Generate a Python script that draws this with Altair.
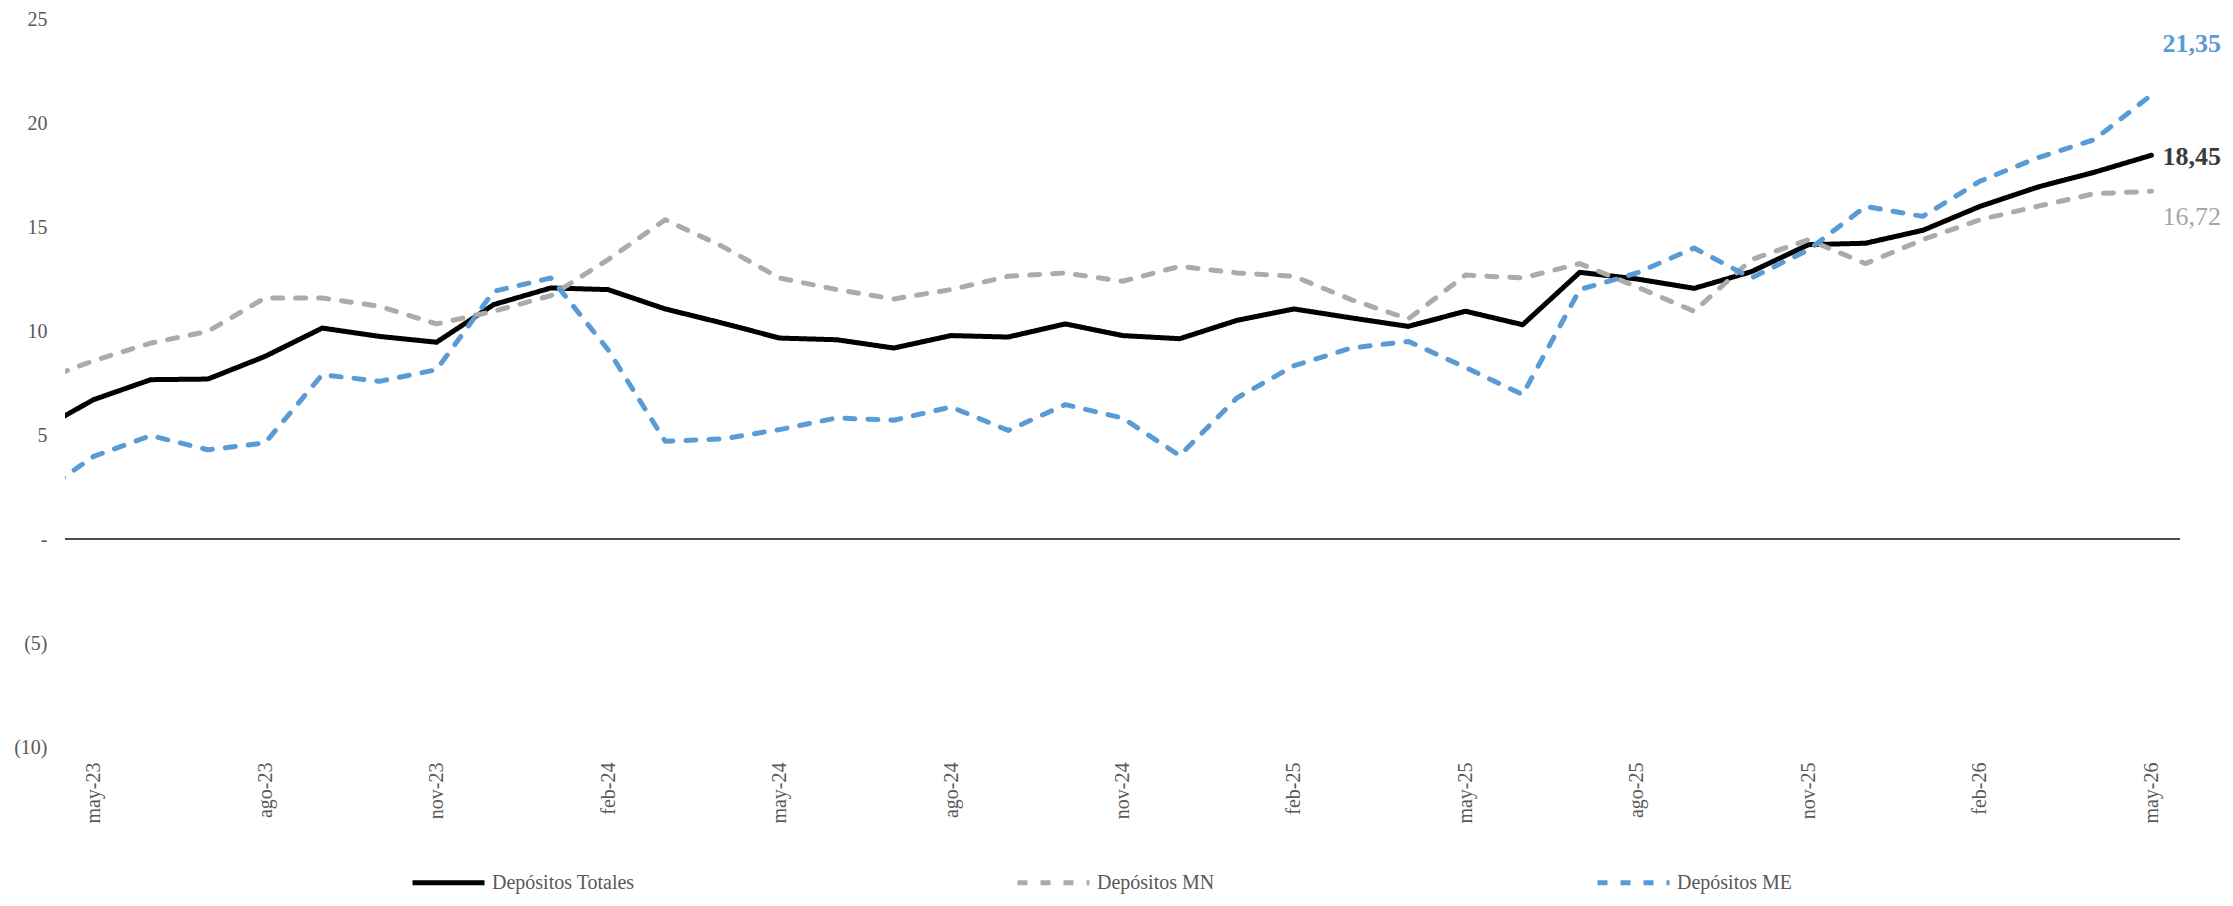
import json
import altair as alt
import pandas as pd

# Months (first one is only partially visible at the left edge)
MONTHS = ["abr-23", "may-23", "jun-23", "jul-23", "ago-23", "sep-23", "oct-23", "nov-23", "dic-23",
          "ene-24", "feb-24", "mar-24", "abr-24", "may-24", "jun-24", "jul-24", "ago-24", "sep-24",
          "oct-24", "nov-24", "dic-24", "ene-25", "feb-25", "mar-25", "abr-25", "may-25", "jun-25",
          "jul-25", "ago-25", "sep-25", "oct-25", "nov-25", "dic-25", "ene-26", "feb-26", "mar-26",
          "abr-26", "may-26"]

TOTALES = [5.16, 6.70, 7.66, 7.69, 8.78, 10.14, 9.74, 9.46, 11.27,
           12.07, 11.99, 11.06, 10.38, 9.66, 9.58, 9.18, 9.78, 9.71,
           10.34, 9.78, 9.63, 10.51, 11.06, 10.63, 10.22, 10.95, 10.30,
           12.82, 12.50, 12.05, 12.85, 14.15, 14.22, 14.84, 15.99, 16.91,
           17.63, 18.45]

MN = [7.55, 8.57, 9.42, 9.98, 11.59, 11.59, 11.19, 10.34, 10.95,
      11.70, 13.43, 15.35, 14.07, 12.55, 11.99, 11.54, 11.99, 12.63,
      12.79, 12.39, 13.11, 12.79, 12.63, 11.51, 10.58, 12.69, 12.55,
      13.24, 12.12, 10.95, 13.43, 14.39, 13.24, 14.39, 15.35, 15.99,
      16.60, 16.72]

ME = [2.05, 3.97, 4.97, 4.29, 4.62, 7.90, 7.58, 8.14, 11.91,
      12.55, 9.10, 4.70, 4.81, 5.26, 5.82, 5.71, 6.35, 5.22,
      6.46, 5.82, 4.01, 6.78, 8.33, 9.18, 9.50, 8.25, 6.94,
      11.99, 12.79, 13.99, 12.55, 13.90, 15.99, 15.51, 17.20, 18.32,
      19.20, 21.35]

SERIES = ["Depósitos Totales", "Depósitos MN", "Depósitos ME"]
COLORS = ["#000000", "#ADAAAA", "#5B9BD5"]
DASHES = [[1, 0], [10, 13], [10, 13]]
LABEL_COLORS = ["#3A3A3A", "#A8A5A5", "#5B9BD5"]

TICK_VALUES = list(range(0, 37, 3))
Y_TICKS = list(range(-10, 26, 5))

FONT = "Liberation Serif"

rows = []
for name, vals in zip(SERIES, [TOTALES, MN, ME]):
    for i, (m, v) in enumerate(zip(MONTHS, vals)):
        rows.append({"serie": name, "mes": m, "idx": i - 1, "valor": v})
df = pd.DataFrame(rows)

x_scale = alt.Scale(domain=[-0.5, 36.5], nice=False, zero=False)
y_scale = alt.Scale(domain=[-10, 25], nice=False, zero=False)
color_scale = alt.Scale(domain=SERIES, range=COLORS)
dash_scale = alt.Scale(domain=SERIES, range=DASHES)

label_expr_x = json.dumps(MONTHS, ensure_ascii=False) + "[datum.value + 1]"

x_enc = alt.X("idx:Q", scale=x_scale, title=None,
              axis=alt.Axis(values=TICK_VALUES, labelExpr=label_expr_x, labelAngle=270,
                            labelAlign="right", labelBaseline="middle", labelPadding=15,
                            domain=False, ticks=False, grid=False, labelFont=FONT,
                            labelFontSize=20, labelColor="#595959"))
y_enc = alt.Y("valor:Q", scale=y_scale, title=None,
              axis=alt.Axis(values=Y_TICKS,
                            labelExpr="datum.value == 0 ? '-' : (datum.value < 0 ? '(' + abs(datum.value) + ')' : '' + datum.value)",
                            labelPadding=18, domain=False, ticks=False, grid=False,
                            labelFont=FONT, labelFontSize=20, labelColor="#595959"))

legend = alt.Legend(title=None, orient="none", legendX=345, legendY=825, direction="horizontal",
                    columnPadding=372, symbolType="stroke", symbolSize=5184, symbolStrokeWidth=5,
                    labelFont=FONT, labelFontSize=20, labelColor="#595959", labelOffset=5,
                    padding=0)

zero = alt.Chart(pd.DataFrame({"valor": [0]})).mark_rule(color="#4D4D4D", strokeWidth=2).encode(
    y=alt.Y("valor:Q", scale=y_scale)
)

layers = [zero]
for name in SERIES:
    line = alt.Chart(df).transform_filter(alt.datum.serie == name).mark_line(
        strokeWidth=5, strokeCap="round", strokeJoin="round", clip=True
    ).encode(
        x=x_enc,
        y=y_enc,
        color=alt.Color("serie:N", scale=color_scale, legend=legend),
        strokeDash=alt.StrokeDash("serie:N", scale=dash_scale, legend=legend),
        order="idx:Q",
    )
    layers.append(line)

offsets = {"Depósitos Totales": 2, "Depósitos MN": 26, "Depósitos ME": -51}
weights = {"Depósitos Totales": "bold", "Depósitos MN": "normal", "Depósitos ME": "bold"}
for name, col in zip(SERIES, LABEL_COLORS):
    txt = alt.Chart(df).transform_filter(
        (alt.datum.serie == name) & (alt.datum.idx == 36)
    ).transform_calculate(
        lab="replace(format(datum.valor, '.2f'), '.', ',')"
    ).mark_text(align="left", baseline="middle", dx=11, dy=offsets[name], font=FONT,
                fontSize=26, fontWeight=weights[name], color=col).encode(
        x=alt.X("idx:Q", scale=x_scale),
        y=alt.Y("valor:Q", scale=y_scale),
        text="lab:N",
    )
    layers.append(txt)

chart = alt.layer(*layers).properties(
    width=2115, height=728,
    autosize=alt.AutoSizeParams(type="none"),
    padding={"left": 57, "top": 11, "right": 42, "bottom": 150},
    background="white",
).configure(font=FONT).configure_view(stroke=None, strokeWidth=0).configure_legend(
    labelFont=FONT, labelFontSize=20, labelColor="#595959"
)

chart.save("out.html", embed_options={"renderer": "svg", "actions": False})
